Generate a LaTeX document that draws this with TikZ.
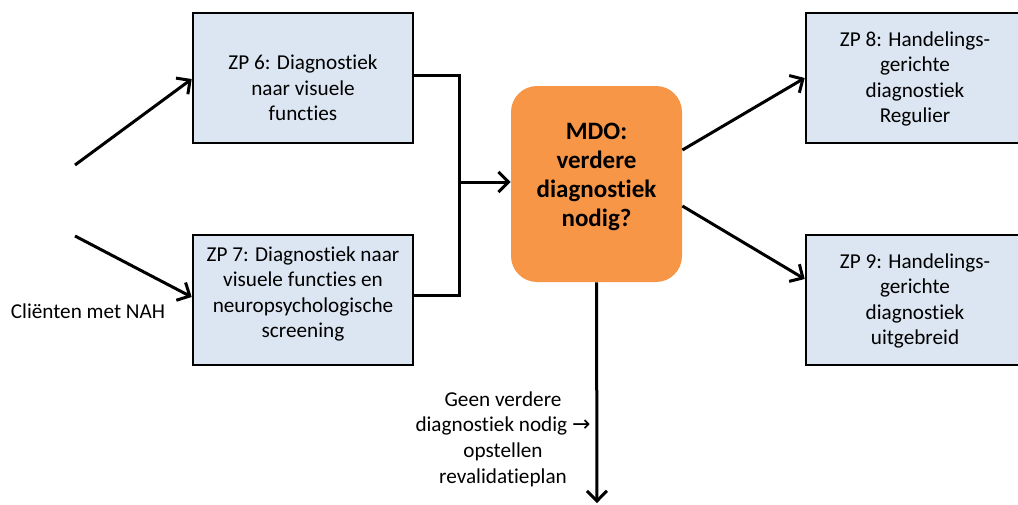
\documentclass[tikz,border=0pt]{standalone}
\usepackage{fontspec}
\setmainfont{Carlito}[Ligatures=CommonOff]
\newfontfamily\arrowfont{DejaVu Sans}
\usetikzlibrary{arrows.meta}
\definecolor{boxblue}{HTML}{DCE6F2}
\definecolor{mdoorange}{HTML}{F79646}
\begin{document}
\begin{tikzpicture}[x=0.5pt,y=-0.5pt,
  zpbox/.style={draw=black,line width=1.3pt,fill=boxblue,minimum width=110pt,minimum height=65pt,inner sep=0pt},
  mdobox/.style={fill=mdoorange,rounded corners=13pt,minimum width=85.5pt,minimum height=98pt,inner sep=0pt},
  txt/.style={align=center,font=\fontsize{10.6pt}{12.8pt}\selectfont,inner sep=0pt},
  btxt/.style={align=center,font=\fontsize{12.5pt}{14.6pt}\selectfont\bfseries,inner sep=0pt},
  conn/.style={line width=1.5pt},
  arr/.style={line width=1.5pt,-{Straight Barb[length=5pt,width=10pt]}}]
\useasboundingbox (0,0) rectangle (1018,504);
% boxes
\node[zpbox] (zp6) at (303,78) {};
\node[zpbox] (zp7) at (303,300) {};
\node[zpbox] (zp8) at (916,78) {};
\node[zpbox] (zp9) at (916,300) {};
\node[mdobox] (mdo) at (596.5,184) {};
% texts
\node[txt] (t6) at (303,88) {ZP 6: Diagnostiek\\naar visuele\\functies};
\node[txt] (t7) at (303,294) {ZP 7: Diagnostiek naar\\visuele functies en\\neuropsychologische\\screening};
\node[txt] (t8) at (915,79) {ZP 8: Handelings-\\gerichte\\diagnostiek\\Regulier};
\node[txt] (t9) at (915,301) {ZP 9: Handelings-\\gerichte\\diagnostiek\\uitgebreid};
\node[btxt] (tm) at (596.5,177) {MDO:\\verdere\\diagnostiek\\nodig?};
\node[txt] (tc) at (88,311) {Cliënten met NAH};
\node[txt] (tg) at (503,439) {Geen verdere\\diagnostiek nodig {\arrowfont\fontsize{11pt}{12pt}\selectfont →}\\opstellen\\revalidatieplan};
% free ends
\coordinate (s6) at (75,165);
\coordinate (s7) at (75,236);
\coordinate (j) at (459,182);
\coordinate (jt) at (459,75);
\coordinate (jb) at (459,295);
\coordinate (down) at (597,503);
% connectors
\draw[arr] (s6) -- ([yshift=-0.5pt]zp6.west);
\draw[arr] (s7) -- ([yshift=1.5pt]zp7.west);
\draw[conn] ([yshift=1.5pt]zp6.east) -- (jt) -- (jb) -- ([yshift=2.5pt]zp7.east);
\draw[arr] (j) -- ([yshift=1pt]mdo.west);
\draw[arr] ([yshift=17pt]mdo.east) -- ([yshift=0pt]zp8.west);
\draw[arr] ([yshift=-11pt]mdo.east) -- ([yshift=10.5pt]zp9.west);
\draw[arr] (mdo.south) -- (down);
\end{tikzpicture}
\end{document}
